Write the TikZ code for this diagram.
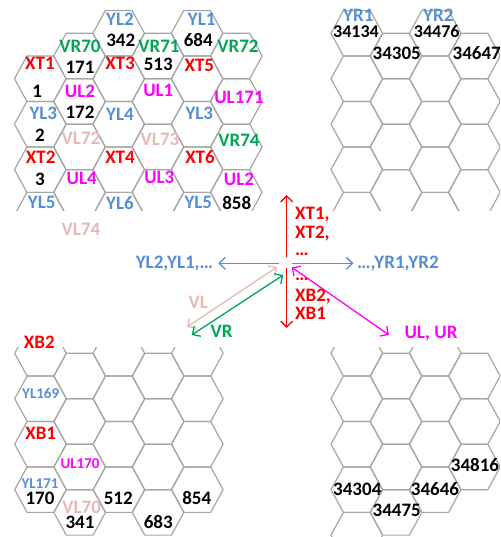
\documentclass[tikz,border=0pt]{standalone}
\usepackage{fontspec}
\setmainfont{Carlito}
\usetikzlibrary{arrows.meta}
\definecolor{cred}{HTML}{FF0000}
\definecolor{cblue}{HTML}{558ED5}
\definecolor{cgreen}{HTML}{00A651}
\definecolor{cmag}{HTML}{FF00FF}
\definecolor{cpink}{HTML}{E6B9B8}
\definecolor{cgrid}{HTML}{A6A6A6}
\newcommand\hexcell[2]{\draw[hexline] ({#1-25.8},{#2}) -- ({#1-13.4},{#2-22.72}) -- ({#1+13.4},{#2-22.72}) -- ({#1+25.8},{#2}) -- ({#1+13.4},{#2+22.72}) -- ({#1-13.4},{#2+22.72}) -- cycle;}
\begin{document}
\begin{tikzpicture}[x=1pt,y=-1pt,
  hexline/.style={draw=cgrid,line width=1.2pt,line join=round},
  lab/.style={font=\fontsize{19}{21}\selectfont\bfseries,inner sep=0pt,text height=0.63em,text depth=0pt},
  sml/.style={font=\fontsize{15}{17}\selectfont\bfseries},
  num/.style={lab,text=black},
  xt/.style={lab,text=cred},
  yl/.style={lab,text=cblue},
  vr/.style={lab,text=cgreen},
  ul/.style={lab,text=cmag},
  vl/.style={lab,text=cpink},
  dots/.style={xt,text height=0.15em,anchor=base west},
  tip/.tip={Straight Barb[length=6pt,width=12pt]},
  arr/.style={line width=1.3pt,-tip},
  darr/.style={line width=1.3pt,tip-tip},
]
\useasboundingbox (0,0) rectangle (500,537);

% ---------- top-left grid ----------
\begin{scope}
\clip (0,0) rectangle (270,210.5);
\foreach \j in {0,...,3} {\hexcell{40.3}{78.75+45.45*\j}}
\foreach \cx in {79.5,157.9,236.3} {\foreach \j in {0,...,3} {\hexcell{\cx}{56.03+45.45*\j}}}
\foreach \cx in {118.7,197.1} {\foreach \j in {0,...,4} {\hexcell{\cx}{33.3+45.45*\j}}}
\end{scope}

% ---------- top-right grid ----------
\begin{scope}
\clip (320,0) rectangle (500,210.5);
\foreach \cx in {356.8,435.2} {\foreach \j in {0,...,4} {\hexcell{\cx}{33.3+45.45*\j}}}
\foreach \cx in {396,474.4} {\foreach \j in {0,...,3} {\hexcell{\cx}{56.03+45.45*\j}}}
\end{scope}

% ---------- bottom-left grid ----------
\begin{scope}
\clip (0,347) rectangle (250,537);
\foreach \cx in {40.5,118.9,197.3} {\foreach \j in {0,...,3} {\hexcell{\cx}{353.3+45.45*\j}}}
\foreach \cx in {79.7,158.1} {\foreach \j in {0,...,3} {\hexcell{\cx}{376.03+45.45*\j}}}
\end{scope}

% ---------- bottom-right grid ----------
\begin{scope}
\clip (320,347) rectangle (500,537);
\foreach \j in {0,...,4} {\hexcell{356.8}{353.3+45.45*\j}}
\foreach \j in {0,...,3} {\hexcell{396}{376.03+45.45*\j}}
\foreach \j in {0,...,3} {\hexcell{435.2}{353.3+45.45*\j}}
\foreach \j in {0,...,2} {\hexcell{474.4}{376.03+45.45*\j}}
\end{scope}

% ---------- top-left labels ----------
\node[yl] (tYLa) at (120,22.7) {YL2};
\node[yl] (tYLb) at (201.7,22.7) {YL1};
\node[vr] (tVR70) at (80,49) {VR70};
\node[num] (n342) at (120.7,43.3) {342};
\node[vr] (tVR71) at (159,49) {VR71};
\node[num] (n684) at (198.3,43.3) {684};
\node[vr] (tVR72) at (238,49) {VR72};
\node[xt] (tXT1) at (40,66.7) {XT1};
\node[num] (n171) at (80,70) {171};
\node[xt] (tXT3) at (120,66.7) {XT3};
\node[num] (n513) at (158.3,67) {513};
\node[xt] (tXT5) at (199.3,68) {XT5};
\node[num] (n1) at (37.3,94.3) {1};
\node[ul] (tUL2a) at (80,94.3) {UL2};
\node[ul] (tUL1) at (158.3,93.3) {UL1};
\node[ul] (tUL171) at (239,100.5) {UL171};
\node[yl] (tYL3a) at (43.3,116.7) {YL3};
\node[num] (n172) at (80,115) {172};
\node[yl] (tYL4) at (120,117.3) {YL4};
\node[yl] (tYL3b) at (199.3,116.7) {YL3};
\node[num] (n2) at (40,138.3) {2};
\node[vl] (tVL72) at (81,141.7) {VL72};
\node[vl] (tVL73) at (160,142.7) {VL73};
\node[vr] (tVR74) at (239,143.3) {VR74};
\node[xt] (tXT2) at (40.7,160.7) {XT2};
\node[xt] (tXT4) at (120,160.7) {XT4};
\node[xt] (tXT6) at (200,160.7) {XT6};
\node[num] (n3) at (40,182.7) {3};
\node[ul] (tUL4) at (81.7,181.7) {UL4};
\node[ul] (tUL3) at (159.3,180) {UL3};
\node[ul] (tUL2b) at (239,182) {UL2};
\node[yl] (tYL5a) at (41.7,205) {YL5};
\node[yl] (tYL6) at (120,206) {YL6};
\node[yl] (tYL5b) at (198.3,205) {YL5};
\node[num] (n858) at (236.7,206) {858};
\node[vl] (tVL74) at (81,232.7) {VL74};

% ---------- top-right labels ----------
\node[yl] (tYR1) at (358.3,18.5) {YR1};
\node[num,font=\fontsize{18}{20}\selectfont\bfseries] (n34134) at (356,34.5) {34134};
\node[yl] (tYR2) at (438.3,18.5) {YR2};
\node[num,font=\fontsize{18}{20}\selectfont\bfseries] (n34476) at (436.7,34) {34476};
\node[num] (n34305) at (396.7,56) {34305};
\node[num] (n34647) at (476.7,56.7) {34647};

% ---------- centre arrows ----------
\coordinate (upS) at (286.7,257);
\coordinate (upE) at (286.7,195);
\coordinate (dnS) at (286.7,268);
\coordinate (dnE) at (286.7,328);
\coordinate (lfS) at (279,263.3);
\coordinate (lfE) at (218.3,263.3);
\coordinate (rtS) at (292,263.3);
\coordinate (rtE) at (353.3,263.3);
\coordinate (vlA) at (277,267);
\coordinate (vlB) at (187,327);
\coordinate (vrA) at (283.3,275);
\coordinate (vrB) at (191.7,335);
\coordinate (ulA) at (291.7,267.3);
\coordinate (ulB) at (389,335);
\draw[arr,cred] (upS) -- (upE);
\draw[arr,cred] (dnS) -- (dnE);
\draw[arr,cblue] (lfS) -- (lfE);
\draw[arr,cblue] (rtS) -- (rtE);
\draw[darr,cpink] (vlA) -- (vlB);
\draw[darr,cgreen] (vrA) -- (vrB);
\draw[darr,cmag] (ulA) -- (ulB);

\node[xt,anchor=west] (aXT1) at (295,216.2) {XT1,};
\node[xt,anchor=west] (aXT2) at (295,235.5) {XT2,};
\node[dots] (aDots1) at (295,255) {…};
\node[dots] (aDots2) at (295,280.5) {…};
\node[xt,anchor=west] (aXB2) at (295,298.3) {XB2,};
\node[xt,anchor=west] (aXB1) at (295,316.7) {XB1};
\node[yl,anchor=east] (aYL) at (213.3,265) {YL2,YL1,…};
\node[yl,anchor=west] (aYR) at (357,265) {…,YR1,YR2};
\node[vl] (aVL) at (198.3,305) {VL};
\node[vr] (aVR) at (221.7,334) {VR};
\node[ul] (aUL) at (431,335) {UL, UR};

% ---------- bottom-left labels ----------
\node[xt] (bXB2) at (39.3,345) {XB2};
\node[yl,sml] (bYL169) at (40.7,395) {YL169};
\node[xt] (bXB1) at (40.7,436.7) {XB1};
\node[ul,sml] (bUL170) at (80,465) {UL170};
\node[yl,sml] (bYL171) at (40,485) {YL171};
\node[num] (n170) at (40,501.7) {170};
\node[vl] (bVL70) at (81.7,510) {VL70};
\node[num] (n512) at (118.3,501.7) {512};
\node[num] (n854) at (196.7,501.7) {854};
\node[num] (n341) at (80,525) {341};
\node[num] (n683) at (158.3,525) {683};

% ---------- bottom-right labels ----------
\node[num] (n34816) at (475,468.3) {34816};
\node[num] (n34304) at (357.3,492.3) {34304};
\node[num] (n34646) at (435,492.3) {34646};
\node[num] (n34475) at (396.7,513.3) {34475};
\end{tikzpicture}
\end{document}
